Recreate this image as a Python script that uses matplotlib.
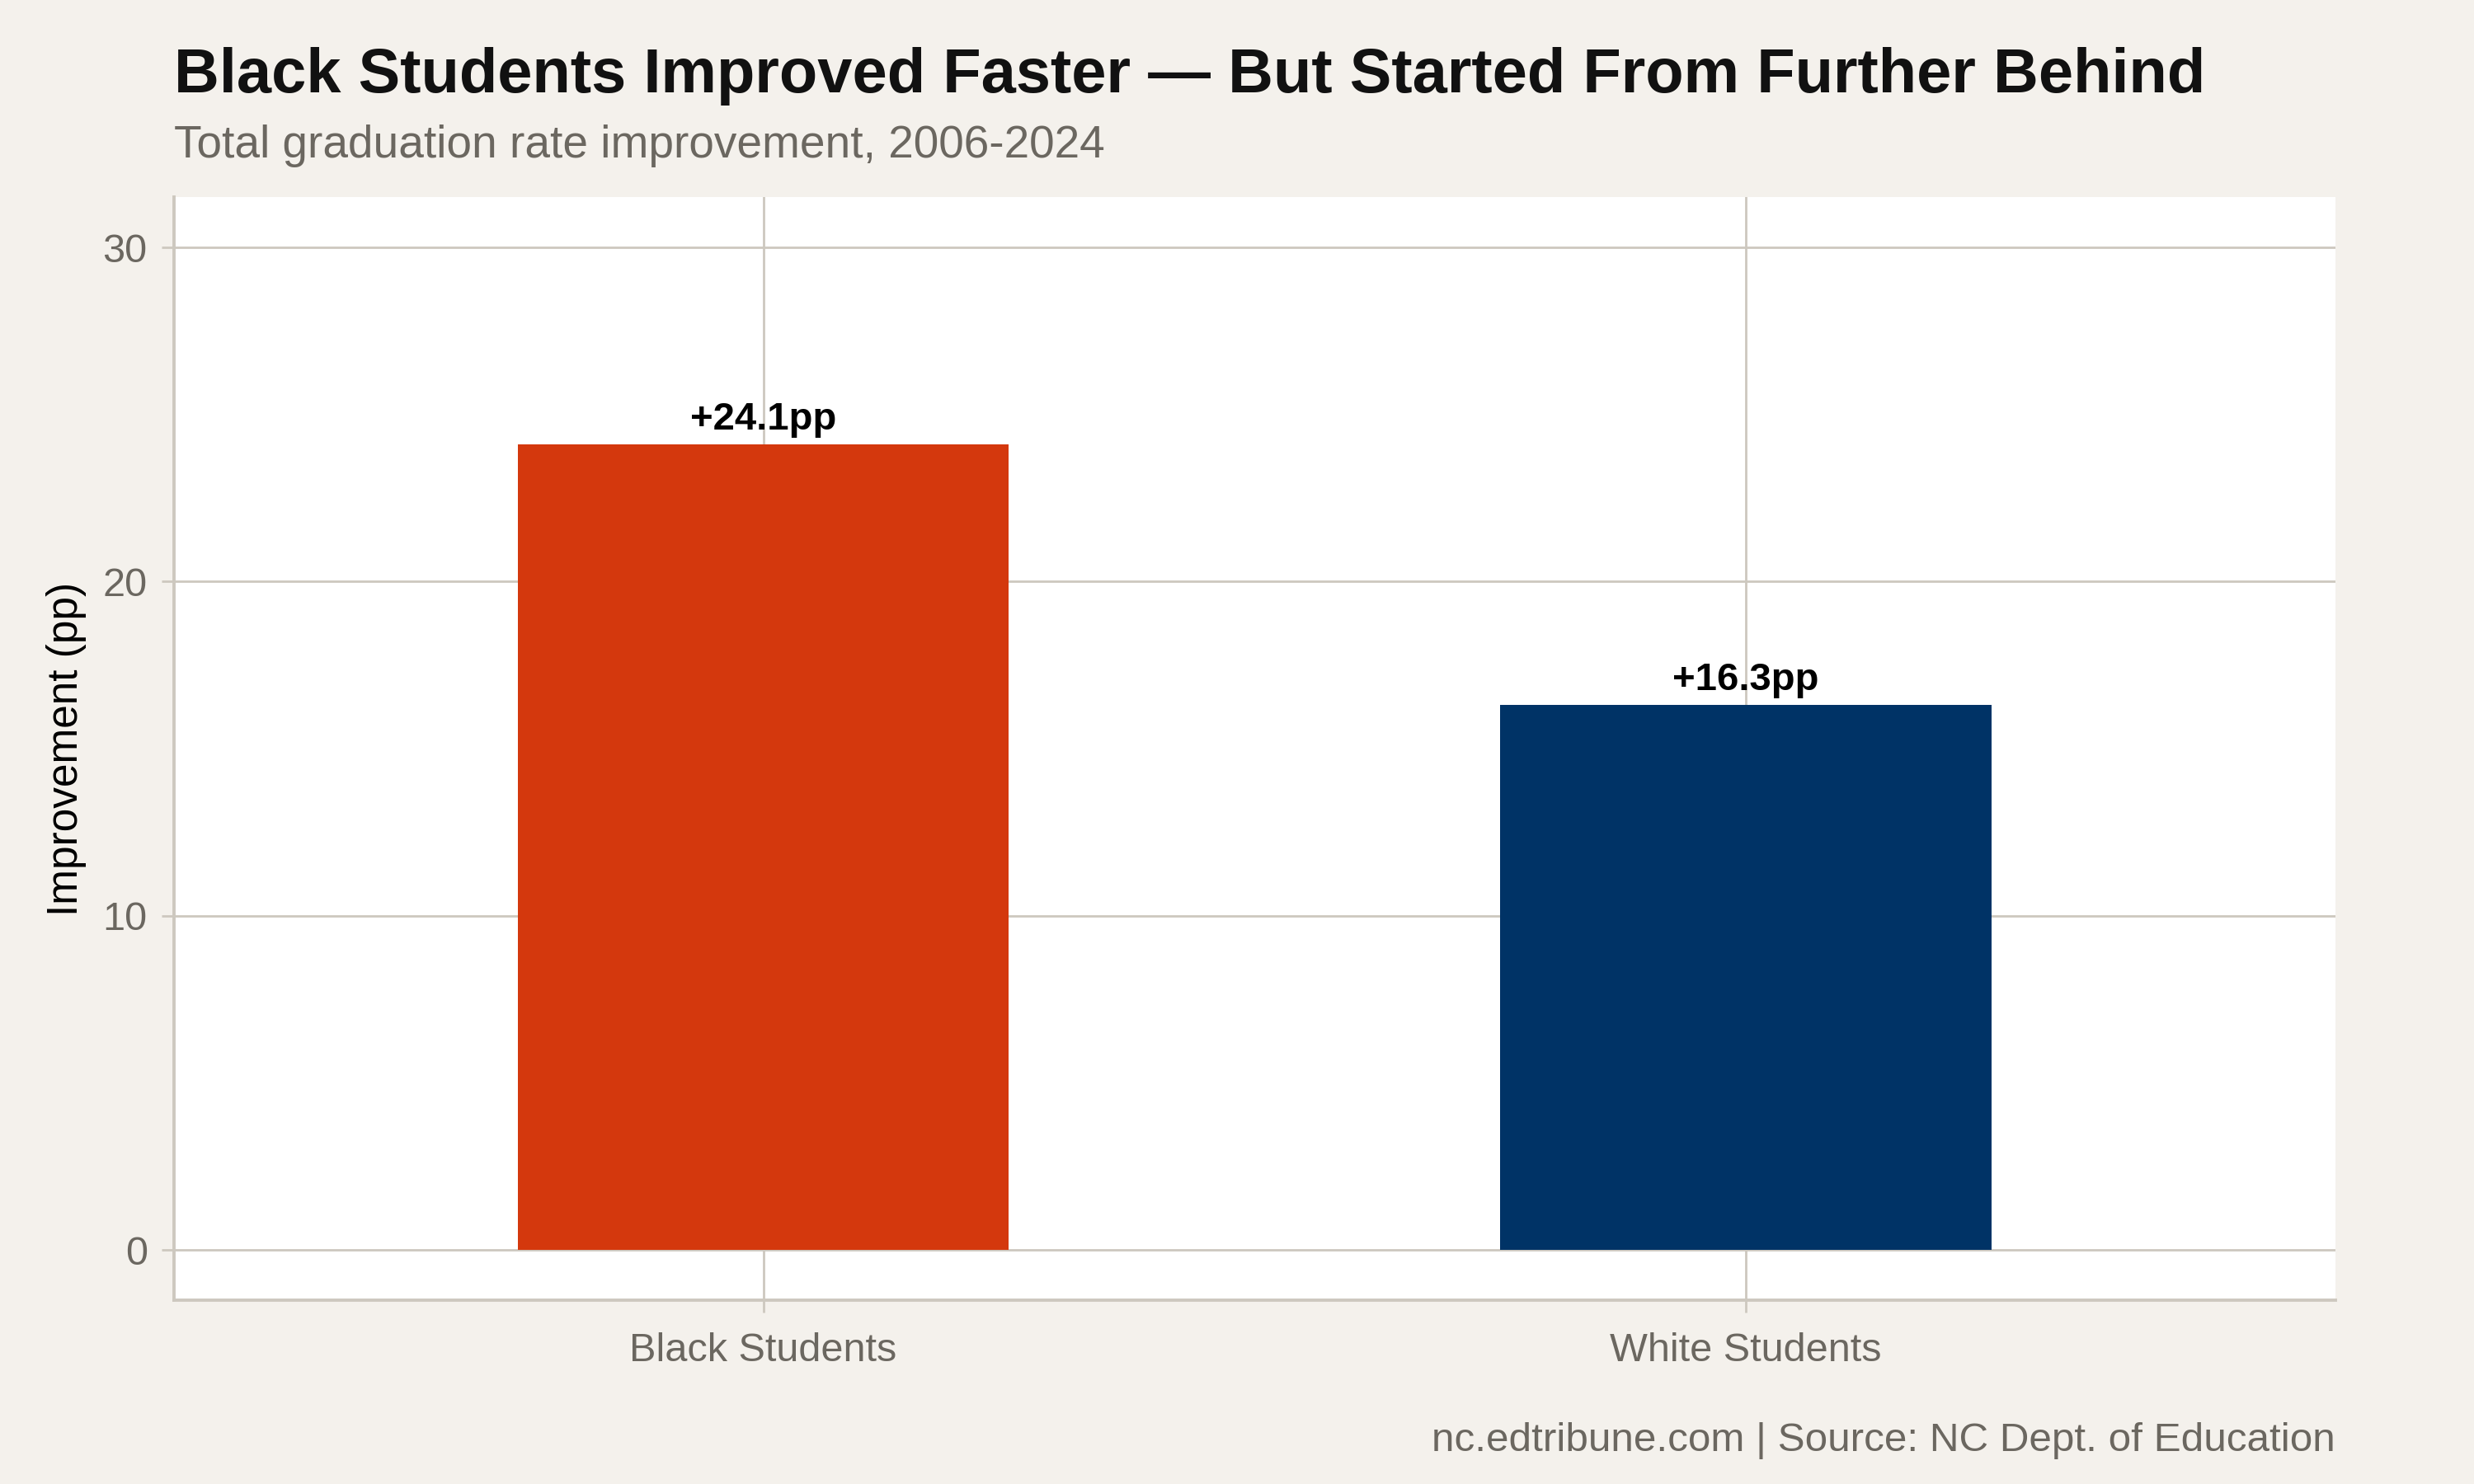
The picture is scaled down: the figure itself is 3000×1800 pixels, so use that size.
import matplotlib
matplotlib.use("Agg")
import matplotlib.pyplot as plt

groups = ["Black Students", "White Students"]
improvement = [24.1, 16.3]
bar_colors = ["#D4380D", "#003366"]
yticks = [0, 10, 20, 30]

bg = "#F4F1EC"
grid_c = "#CDC8BF"
text_gray = "#6B6760"

plt.rcParams['font.family'] = ['Liberation Sans', 'DejaVu Sans']

fig = plt.figure(figsize=(15, 9), dpi=200, facecolor=bg)
ax = fig.add_axes([0.0702, 0.124, 0.944 - 0.0702, 0.867 - 0.124])
ax.set_facecolor("white")

x = list(range(len(groups)))
ax.bar(x, improvement, width=0.5, color=bar_colors, zorder=3)
for xi, v in zip(x, improvement):
    ax.annotate(f"+{v}pp", (xi, v), xytext=(0, 3), textcoords="offset points",
                ha="center", va="bottom", fontsize=17, fontweight="bold",
                color="black", zorder=4)

ax.set_xlim(-0.6, 1.6)
ax.set_ylim(-1.5, 31.5)
ax.set_xticks(x)
ax.set_xticklabels(groups)
ax.set_yticks(yticks)

ax.grid(True, color=grid_c, linewidth=1.0, zorder=0)
for s in ["top", "right"]:
    ax.spines[s].set_visible(False)
for s in ["left", "bottom"]:
    ax.spines[s].set_color(grid_c)
    ax.spines[s].set_linewidth(1.4)
ax.tick_params(axis="both", colors=grid_c, length=5.5, width=1.0,
               labelcolor=text_gray, labelsize=17.5)
ax.tick_params(axis="x", pad=8.5)
ax.tick_params(axis="y", pad=6)

ax.set_ylabel("Improvement (pp)", fontsize=18.5, color="black", labelpad=7)

fig.text(0.0702, 0.938, "Black Students Improved Faster \u2014 But Started From Further Behind",
         fontsize=27.3, fontweight="bold", color="#111111", va="baseline", ha="left")
fig.text(0.0702, 0.894, "Total graduation rate improvement, 2006-2024",
         fontsize=19.8, color=text_gray, va="baseline", ha="left")
fig.text(0.944, 0.022, "nc.edtribune.com | Source: NC Dept. of Education",
         fontsize=17.8, color=text_gray, va="baseline", ha="right")

fig.savefig("out.png", dpi=200, facecolor=bg)
